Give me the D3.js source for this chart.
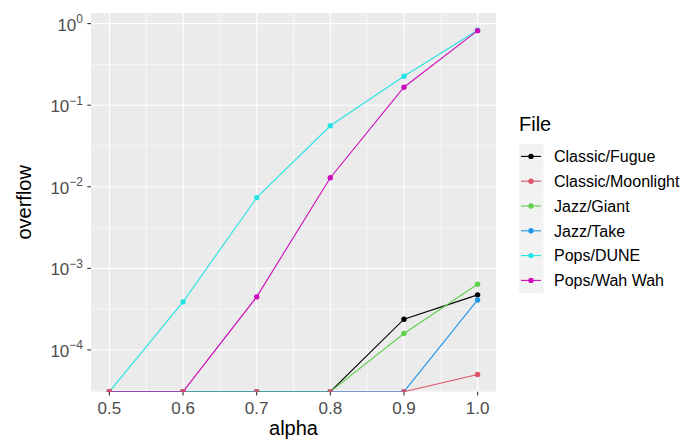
<!DOCTYPE html>
<html>
<head>
<meta charset="utf-8">
<script src="https://cdn.jsdelivr.net/npm/d3@7"></script>
<style>
  html, body { margin: 0; padding: 0; background: #fff; }
  svg { display: block; font-family: "Liberation Sans", Arial, sans-serif; }
</style>
</head>
<body>
<svg id="chart" width="687" height="439"></svg>
<script>
// alpha values on the x axis
const alphas = [0.5, 0.6, 0.7, 0.8, 0.9, 1.0];
const files = ["Classic/Fugue", "Classic/Moonlight", "Jazz/Giant", "Jazz/Take", "Pops/DUNE", "Pops/Wah Wah"];
const colors = ["#000000", "#DF536B", "#61D04F", "#2297E6", "#28E2E5", "#CD0BBC"];

// overflow per file, one value per alpha (0 = no overflow)
const fugue     = [0, 0, 0, 0, 2.38e-4, 4.73e-4];
const moonlight = [0, 0, 0, 0, 0, 5.0e-5];
const giant     = [0, 0, 0, 0, 1.59e-4, 6.39e-4];
const take      = [0, 0, 0, 0, 0, 4.1e-4];
const dune      = [0, 3.88e-4, 7.36e-3, 0.056, 0.226, 0.83];
const wahwah    = [0, 0, 4.47e-4, 0.0129, 0.166, 0.82];

const xTicks = [0.5, 0.6, 0.7, 0.8, 0.9, 1.0];
const yTickExps = [0, -1, -2, -3, -4];

const seriesValues = [fugue, moonlight, giant, take, dune, wahwah];
const series = files.map((name, i) => ({
  name, color: colors[i],
  points: alphas.map((a, j) => ({ x: a, v: seriesValues[i][j] }))
}));

const svg = d3.select("#chart");
const panel = { left: 91, top: 13, right: 496, bottom: 391.7 };

// ggplot-like 5% expansion on both scales
const xExt = d3.extent(alphas);
const xPad = (xExt[1] - xExt[0]) * 0.05;
const x = d3.scaleLinear().domain([xExt[0] - xPad, xExt[1] + xPad]).range([panel.left, panel.right]);

const positive = seriesValues.flat().filter(v => v > 0);
const lmin = Math.log10(d3.min(positive)), lmax = Math.log10(d3.max(positive));
const lPad = (lmax - lmin) * 0.05;
const y = d3.scaleLog().domain([10 ** (lmin - lPad), 10 ** (lmax + lPad)])
  .range([panel.bottom, panel.top]).clamp(true);
// zero values sit on the lower panel edge
const yv = v => v > 0 ? y(v) : y.range()[0];

// panel background
svg.append("rect")
  .attr("x", panel.left).attr("y", panel.top)
  .attr("width", panel.right - panel.left).attr("height", panel.bottom - panel.top)
  .attr("fill", "#EBEBEB");

const grid = svg.append("g");
// minor grid: midpoints between majors
const yMinor = d3.range(0.5, 5, 1).map(e => 10 ** (-e)).concat([10 ** 0.5]);
yMinor.forEach(v => {
  const py = y(v);
  if (py > panel.top && py < panel.bottom)
    grid.append("line").attr("x1", panel.left).attr("x2", panel.right)
      .attr("y1", py).attr("y2", py).attr("stroke", "#fff").attr("stroke-width", 0.55);
});
const xMinor = d3.range(0.55, 1.0, 0.1);
xMinor.forEach(v => {
  grid.append("line").attr("y1", panel.top).attr("y2", panel.bottom)
    .attr("x1", x(v)).attr("x2", x(v)).attr("stroke", "#fff").attr("stroke-width", 0.55);
});
// major grid
yTickExps.forEach(e => {
  grid.append("line").attr("x1", panel.left).attr("x2", panel.right)
    .attr("y1", y(10 ** e)).attr("y2", y(10 ** e)).attr("stroke", "#fff").attr("stroke-width", 1.1);
});
xTicks.forEach(v => {
  grid.append("line").attr("y1", panel.top).attr("y2", panel.bottom)
    .attr("x1", x(v)).attr("x2", x(v)).attr("stroke", "#fff").attr("stroke-width", 1.1);
});

svg.append("clipPath").attr("id", "panelClip").append("rect")
  .attr("x", panel.left).attr("y", panel.top)
  .attr("width", panel.right - panel.left).attr("height", panel.bottom - panel.top);

const plot = svg.append("g").attr("clip-path", "url(#panelClip)");
const line = d3.line().x(d => x(d.x)).y(d => yv(d.v));

series.forEach(s => {
  plot.append("path").datum(s.points)
    .attr("fill", "none").attr("stroke", s.color).attr("stroke-width", 1.1)
    .attr("d", line);
});
// points: Moonlight drawn last so its zero points show on the lower edge
const pointOrder = [0, 2, 3, 4, 5, 1];
pointOrder.forEach(i => {
  const s = series[i];
  plot.selectAll(null).data(s.points).enter().append("circle")
    .attr("cx", d => x(d.x)).attr("cy", d => yv(d.v))
    .attr("r", 2.7).attr("fill", s.color);
});

// x axis
const xAxis = svg.append("g");
xTicks.forEach(v => {
  xAxis.append("line").attr("x1", x(v)).attr("x2", x(v))
    .attr("y1", panel.bottom).attr("y2", panel.bottom + 3.7)
    .attr("stroke", "#333").attr("stroke-width", 1.1);
  xAxis.append("text").attr("x", x(v)).attr("y", panel.bottom + 22)
    .attr("text-anchor", "middle").attr("font-size", 17).attr("fill", "#4D4D4D")
    .text(d3.format(".1f")(v));
});
svg.append("text").attr("x", (panel.left + panel.right) / 2).attr("y", 435)
  .attr("text-anchor", "middle").attr("font-size", 20).attr("fill", "#000")
  .text("alpha");

// y axis
const yAxis = svg.append("g");
yTickExps.forEach(e => {
  const py = y(10 ** e);
  yAxis.append("line").attr("x1", panel.left - 3.7).attr("x2", panel.left)
    .attr("y1", py).attr("y2", py).attr("stroke", "#333").attr("stroke-width", 1.1);
  const t = yAxis.append("text").attr("x", panel.left - 8).attr("y", py + 7)
    .attr("text-anchor", "end").attr("font-size", 17).attr("fill", "#4D4D4D");
  t.append("tspan").text("10");
  t.append("tspan").attr("dy", -7.5).attr("font-size", 12)
    .text(e === 0 ? "0" : "\u2212" + Math.abs(e));
});
svg.append("text")
  .attr("transform", `translate(31,${(panel.top + panel.bottom) / 2}) rotate(-90)`)
  .attr("text-anchor", "middle").attr("font-size", 20).attr("fill", "#000")
  .text("overflow");

// legend
const legend = svg.append("g").attr("transform", "translate(519,0)");
legend.append("text").attr("x", 0).attr("y", 131).attr("font-size", 20).attr("fill", "#000").text("File");
const keyH = 24.8, keyTop = 144;
series.forEach((s, i) => {
  const cy = keyTop + keyH * i + keyH / 2;
  legend.append("rect").attr("x", 0).attr("y", keyTop + keyH * i)
    .attr("width", 24.5).attr("height", keyH).attr("fill", "#F2F2F2");
  legend.append("line").attr("x1", 2).attr("x2", 22).attr("y1", cy).attr("y2", cy)
    .attr("stroke", s.color).attr("stroke-width", 1.1);
  legend.append("circle").attr("cx", 12).attr("cy", cy).attr("r", 2.7).attr("fill", s.color);
  legend.append("text").attr("x", 35).attr("y", cy + 5.7)
    .attr("font-size", 16).attr("fill", "#000").text(s.name);
});
</script>
</body>
</html>
